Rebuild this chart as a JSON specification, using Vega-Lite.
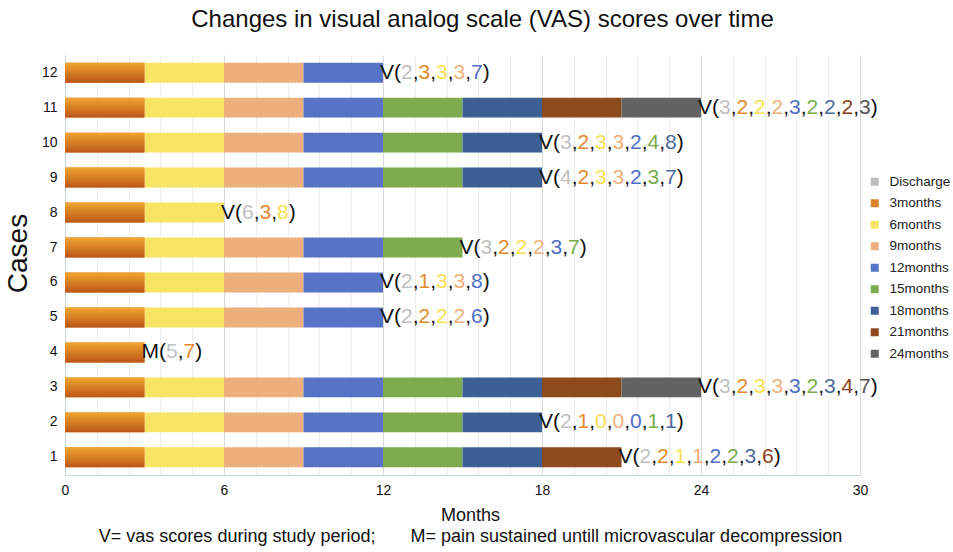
{
  "$schema": "https://vega.github.io/schema/vega-lite/v6.json",
  "autosize": {"type": "none"},
  "padding": {"left": 65, "top": 55, "right": 93, "bottom": 77},
  "width": 795,
  "height": 420,
  "background": "white",
  "config": {"font": "Liberation Sans", "view": {"stroke": null}},
  "title": {"text": "Changes in visual analog scale (VAS) scores over time", "fontSize": 24, "fontWeight": "normal", "color": "#111111", "anchor": "middle", "dx": 20, "baseline": "bottom", "offset": -1},
  "datasets": {
    "segs": [
      {"c":1,"p":"3months","a":0,"b":3},{"c":1,"p":"6months","a":3,"b":6},{"c":1,"p":"9months","a":6,"b":9},{"c":1,"p":"12months","a":9,"b":12},{"c":1,"p":"15months","a":12,"b":15},{"c":1,"p":"18months","a":15,"b":18},{"c":1,"p":"21months","a":18,"b":21},
      {"c":2,"p":"3months","a":0,"b":3},{"c":2,"p":"6months","a":3,"b":6},{"c":2,"p":"9months","a":6,"b":9},{"c":2,"p":"12months","a":9,"b":12},{"c":2,"p":"15months","a":12,"b":15},{"c":2,"p":"18months","a":15,"b":18},
      {"c":3,"p":"3months","a":0,"b":3},{"c":3,"p":"6months","a":3,"b":6},{"c":3,"p":"9months","a":6,"b":9},{"c":3,"p":"12months","a":9,"b":12},{"c":3,"p":"15months","a":12,"b":15},{"c":3,"p":"18months","a":15,"b":18},{"c":3,"p":"21months","a":18,"b":21},{"c":3,"p":"24months","a":21,"b":24},
      {"c":4,"p":"3months","a":0,"b":3},
      {"c":5,"p":"3months","a":0,"b":3},{"c":5,"p":"6months","a":3,"b":6},{"c":5,"p":"9months","a":6,"b":9},{"c":5,"p":"12months","a":9,"b":12},
      {"c":6,"p":"3months","a":0,"b":3},{"c":6,"p":"6months","a":3,"b":6},{"c":6,"p":"9months","a":6,"b":9},{"c":6,"p":"12months","a":9,"b":12},
      {"c":7,"p":"3months","a":0,"b":3},{"c":7,"p":"6months","a":3,"b":6},{"c":7,"p":"9months","a":6,"b":9},{"c":7,"p":"12months","a":9,"b":12},{"c":7,"p":"15months","a":12,"b":15},
      {"c":8,"p":"3months","a":0,"b":3},{"c":8,"p":"6months","a":3,"b":6},
      {"c":9,"p":"3months","a":0,"b":3},{"c":9,"p":"6months","a":3,"b":6},{"c":9,"p":"9months","a":6,"b":9},{"c":9,"p":"12months","a":9,"b":12},{"c":9,"p":"15months","a":12,"b":15},{"c":9,"p":"18months","a":15,"b":18},
      {"c":10,"p":"3months","a":0,"b":3},{"c":10,"p":"6months","a":3,"b":6},{"c":10,"p":"9months","a":6,"b":9},{"c":10,"p":"12months","a":9,"b":12},{"c":10,"p":"15months","a":12,"b":15},{"c":10,"p":"18months","a":15,"b":18},
      {"c":11,"p":"3months","a":0,"b":3},{"c":11,"p":"6months","a":3,"b":6},{"c":11,"p":"9months","a":6,"b":9},{"c":11,"p":"12months","a":9,"b":12},{"c":11,"p":"15months","a":12,"b":15},{"c":11,"p":"18months","a":15,"b":18},{"c":11,"p":"21months","a":18,"b":21},{"c":11,"p":"24months","a":21,"b":24},
      {"c":12,"p":"3months","a":0,"b":3},{"c":12,"p":"6months","a":3,"b":6},{"c":12,"p":"9months","a":6,"b":9},{"c":12,"p":"12months","a":9,"b":12}
    ],
    "labs": [
      {"c":1,"e":21,"t":"V(\u2007,\u2007,\u2007,\u2007,\u2007,\u2007,\u2007,\u2007)","s":"k"},
      {"c":1,"e":21,"t":"\u200d\u20032","s":"D"},
      {"c":1,"e":21,"t":"\u200d\u2003\u2007\u20082","s":"3"},
      {"c":1,"e":21,"t":"\u200d\u2003\u2007\u2008\u2007\u20081","s":"6"},
      {"c":1,"e":21,"t":"\u200d\u2003\u2007\u2008\u2007\u2008\u2007\u20081","s":"9"},
      {"c":1,"e":21,"t":"\u200d\u2003\u2007\u2008\u2007\u2008\u2007\u2008\u2007\u20082","s":"12"},
      {"c":1,"e":21,"t":"\u200d\u2003\u2007\u2008\u2007\u2008\u2007\u2008\u2007\u2008\u2007\u20082","s":"15"},
      {"c":1,"e":21,"t":"\u200d\u2003\u2007\u2008\u2007\u2008\u2007\u2008\u2007\u2008\u2007\u2008\u2007\u20083","s":"18"},
      {"c":1,"e":21,"t":"\u200d\u2003\u2007\u2008\u2007\u2008\u2007\u2008\u2007\u2008\u2007\u2008\u2007\u2008\u2007\u20086","s":"21"},

      {"c":2,"e":18,"t":"V(\u2007,\u2007,\u2007,\u2007,\u2007,\u2007,\u2007)","s":"k"},
      {"c":2,"e":18,"t":"\u200d\u20032","s":"D"},
      {"c":2,"e":18,"t":"\u200d\u2003\u2007\u20081","s":"3"},
      {"c":2,"e":18,"t":"\u200d\u2003\u2007\u2008\u2007\u20080","s":"6"},
      {"c":2,"e":18,"t":"\u200d\u2003\u2007\u2008\u2007\u2008\u2007\u20080","s":"9"},
      {"c":2,"e":18,"t":"\u200d\u2003\u2007\u2008\u2007\u2008\u2007\u2008\u2007\u20080","s":"12"},
      {"c":2,"e":18,"t":"\u200d\u2003\u2007\u2008\u2007\u2008\u2007\u2008\u2007\u2008\u2007\u20081","s":"15"},
      {"c":2,"e":18,"t":"\u200d\u2003\u2007\u2008\u2007\u2008\u2007\u2008\u2007\u2008\u2007\u2008\u2007\u20081","s":"18"},

      {"c":3,"e":24,"t":"V(\u2007,\u2007,\u2007,\u2007,\u2007,\u2007,\u2007,\u2007,\u2007)","s":"k"},
      {"c":3,"e":24,"t":"\u200d\u20033","s":"D"},
      {"c":3,"e":24,"t":"\u200d\u2003\u2007\u20082","s":"3"},
      {"c":3,"e":24,"t":"\u200d\u2003\u2007\u2008\u2007\u20083","s":"6"},
      {"c":3,"e":24,"t":"\u200d\u2003\u2007\u2008\u2007\u2008\u2007\u20083","s":"9"},
      {"c":3,"e":24,"t":"\u200d\u2003\u2007\u2008\u2007\u2008\u2007\u2008\u2007\u20083","s":"12"},
      {"c":3,"e":24,"t":"\u200d\u2003\u2007\u2008\u2007\u2008\u2007\u2008\u2007\u2008\u2007\u20082","s":"15"},
      {"c":3,"e":24,"t":"\u200d\u2003\u2007\u2008\u2007\u2008\u2007\u2008\u2007\u2008\u2007\u2008\u2007\u20083","s":"18"},
      {"c":3,"e":24,"t":"\u200d\u2003\u2007\u2008\u2007\u2008\u2007\u2008\u2007\u2008\u2007\u2008\u2007\u2008\u2007\u20084","s":"21"},
      {"c":3,"e":24,"t":"\u200d\u2003\u2007\u2008\u2007\u2008\u2007\u2008\u2007\u2008\u2007\u2008\u2007\u2008\u2007\u2008\u2007\u20087","s":"24"},

      {"c":4,"e":3,"t":"M(\u2007,\u2007)","s":"k"},
      {"c":4,"e":3,"t":"\u200d\u2003\u20065","s":"D"},
      {"c":4,"e":3,"t":"\u200d\u2003\u2006\u2007\u20087","s":"3"},

      {"c":5,"e":12,"t":"V(\u2007,\u2007,\u2007,\u2007,\u2007)","s":"k"},
      {"c":5,"e":12,"t":"\u200d\u20032","s":"D"},
      {"c":5,"e":12,"t":"\u200d\u2003\u2007\u20082","s":"3"},
      {"c":5,"e":12,"t":"\u200d\u2003\u2007\u2008\u2007\u20082","s":"6"},
      {"c":5,"e":12,"t":"\u200d\u2003\u2007\u2008\u2007\u2008\u2007\u20082","s":"9"},
      {"c":5,"e":12,"t":"\u200d\u2003\u2007\u2008\u2007\u2008\u2007\u2008\u2007\u20086","s":"12"},

      {"c":6,"e":12,"t":"V(\u2007,\u2007,\u2007,\u2007,\u2007)","s":"k"},
      {"c":6,"e":12,"t":"\u200d\u20032","s":"D"},
      {"c":6,"e":12,"t":"\u200d\u2003\u2007\u20081","s":"3"},
      {"c":6,"e":12,"t":"\u200d\u2003\u2007\u2008\u2007\u20083","s":"6"},
      {"c":6,"e":12,"t":"\u200d\u2003\u2007\u2008\u2007\u2008\u2007\u20083","s":"9"},
      {"c":6,"e":12,"t":"\u200d\u2003\u2007\u2008\u2007\u2008\u2007\u2008\u2007\u20088","s":"12"},

      {"c":7,"e":15,"t":"V(\u2007,\u2007,\u2007,\u2007,\u2007,\u2007)","s":"k"},
      {"c":7,"e":15,"t":"\u200d\u20033","s":"D"},
      {"c":7,"e":15,"t":"\u200d\u2003\u2007\u20082","s":"3"},
      {"c":7,"e":15,"t":"\u200d\u2003\u2007\u2008\u2007\u20082","s":"6"},
      {"c":7,"e":15,"t":"\u200d\u2003\u2007\u2008\u2007\u2008\u2007\u20082","s":"9"},
      {"c":7,"e":15,"t":"\u200d\u2003\u2007\u2008\u2007\u2008\u2007\u2008\u2007\u20083","s":"12"},
      {"c":7,"e":15,"t":"\u200d\u2003\u2007\u2008\u2007\u2008\u2007\u2008\u2007\u2008\u2007\u20087","s":"15"},

      {"c":8,"e":6,"t":"V(\u2007,\u2007,\u2007)","s":"k"},
      {"c":8,"e":6,"t":"\u200d\u20036","s":"D"},
      {"c":8,"e":6,"t":"\u200d\u2003\u2007\u20083","s":"3"},
      {"c":8,"e":6,"t":"\u200d\u2003\u2007\u2008\u2007\u20088","s":"6"},

      {"c":9,"e":18,"t":"V(\u2007,\u2007,\u2007,\u2007,\u2007,\u2007,\u2007)","s":"k"},
      {"c":9,"e":18,"t":"\u200d\u20034","s":"D"},
      {"c":9,"e":18,"t":"\u200d\u2003\u2007\u20082","s":"3"},
      {"c":9,"e":18,"t":"\u200d\u2003\u2007\u2008\u2007\u20083","s":"6"},
      {"c":9,"e":18,"t":"\u200d\u2003\u2007\u2008\u2007\u2008\u2007\u20083","s":"9"},
      {"c":9,"e":18,"t":"\u200d\u2003\u2007\u2008\u2007\u2008\u2007\u2008\u2007\u20082","s":"12"},
      {"c":9,"e":18,"t":"\u200d\u2003\u2007\u2008\u2007\u2008\u2007\u2008\u2007\u2008\u2007\u20083","s":"15"},
      {"c":9,"e":18,"t":"\u200d\u2003\u2007\u2008\u2007\u2008\u2007\u2008\u2007\u2008\u2007\u2008\u2007\u20087","s":"18"},

      {"c":10,"e":18,"t":"V(\u2007,\u2007,\u2007,\u2007,\u2007,\u2007,\u2007)","s":"k"},
      {"c":10,"e":18,"t":"\u200d\u20033","s":"D"},
      {"c":10,"e":18,"t":"\u200d\u2003\u2007\u20082","s":"3"},
      {"c":10,"e":18,"t":"\u200d\u2003\u2007\u2008\u2007\u20083","s":"6"},
      {"c":10,"e":18,"t":"\u200d\u2003\u2007\u2008\u2007\u2008\u2007\u20083","s":"9"},
      {"c":10,"e":18,"t":"\u200d\u2003\u2007\u2008\u2007\u2008\u2007\u2008\u2007\u20082","s":"12"},
      {"c":10,"e":18,"t":"\u200d\u2003\u2007\u2008\u2007\u2008\u2007\u2008\u2007\u2008\u2007\u20084","s":"15"},
      {"c":10,"e":18,"t":"\u200d\u2003\u2007\u2008\u2007\u2008\u2007\u2008\u2007\u2008\u2007\u2008\u2007\u20088","s":"18"},

      {"c":11,"e":24,"t":"V(\u2007,\u2007,\u2007,\u2007,\u2007,\u2007,\u2007,\u2007,\u2007)","s":"k"},
      {"c":11,"e":24,"t":"\u200d\u20033","s":"D"},
      {"c":11,"e":24,"t":"\u200d\u2003\u2007\u20082","s":"3"},
      {"c":11,"e":24,"t":"\u200d\u2003\u2007\u2008\u2007\u20082","s":"6"},
      {"c":11,"e":24,"t":"\u200d\u2003\u2007\u2008\u2007\u2008\u2007\u20082","s":"9"},
      {"c":11,"e":24,"t":"\u200d\u2003\u2007\u2008\u2007\u2008\u2007\u2008\u2007\u20083","s":"12"},
      {"c":11,"e":24,"t":"\u200d\u2003\u2007\u2008\u2007\u2008\u2007\u2008\u2007\u2008\u2007\u20082","s":"15"},
      {"c":11,"e":24,"t":"\u200d\u2003\u2007\u2008\u2007\u2008\u2007\u2008\u2007\u2008\u2007\u2008\u2007\u20082","s":"18"},
      {"c":11,"e":24,"t":"\u200d\u2003\u2007\u2008\u2007\u2008\u2007\u2008\u2007\u2008\u2007\u2008\u2007\u2008\u2007\u20082","s":"21"},
      {"c":11,"e":24,"t":"\u200d\u2003\u2007\u2008\u2007\u2008\u2007\u2008\u2007\u2008\u2007\u2008\u2007\u2008\u2007\u2008\u2007\u20083","s":"24"},

      {"c":12,"e":12,"t":"V(\u2007,\u2007,\u2007,\u2007,\u2007)","s":"k"},
      {"c":12,"e":12,"t":"\u200d\u20032","s":"D"},
      {"c":12,"e":12,"t":"\u200d\u2003\u2007\u20083","s":"3"},
      {"c":12,"e":12,"t":"\u200d\u2003\u2007\u2008\u2007\u20083","s":"6"},
      {"c":12,"e":12,"t":"\u200d\u2003\u2007\u2008\u2007\u2008\u2007\u20083","s":"9"},
      {"c":12,"e":12,"t":"\u200d\u2003\u2007\u2008\u2007\u2008\u2007\u2008\u2007\u20087","s":"12"}
    ]
  },
  "resolve": {"axis": {"x": "independent"}},
  "layer": [
    {
      "data": {"name": "segs"},
      "mark": {"type": "bar"},
      "encoding": {
        "y": {"field": "c", "type": "ordinal", "sort": "descending",
              "scale": {"type": "band", "paddingInner": 0.43, "paddingOuter": 0.22},
              "axis": {"title": "Cases", "titleFontSize": 28, "titleFontWeight": "normal", "titlePadding": 9, "titleColor": "#111111", "titleY": 198,
                       "labelFontSize": 14, "labelPadding": 8, "labelColor": "#111111", "ticks": false, "grid": false, "domainColor": "#C8D5E5"}},
        "x": {"field": "a", "type": "quantitative",
              "scale": {"domain": [0, 30], "nice": false},
              "axis": {"orient": "bottom", "values": [0, 6, 12, 18, 24, 30],
                       "labelFontSize": 14, "labelPadding": 8, "labelColor": "#111111", "labelFlush": false, "labelOverlap": false,
                       "ticks": false, "grid": true, "gridColor": "#D9D9D9",
                       "domainColor": "#C8D5E5",
                       "title": ["Months", "V= vas scores during study period;\u00a0\u00a0\u00a0\u00a0\u00a0\u00a0\u00a0M= pain sustained untill microvascular decompression"],
                       "titleFontSize": 18, "titleFontWeight": "normal", "titleColor": "#111111", "titlePadding": 9, "titleLineHeight": 21, "titleX": 405, "titleAlign": "center"}},
        "x2": {"field": "b"},
        "color": {"field": "p", "type": "nominal",
                  "scale": {"domain": ["Discharge","3months","6months","9months","12months","15months","18months","21months","24months"],
                            "range": ["#BFBFBF","#D9822B","#F8E463","#EDB07C","#5673C5","#7DAB4D","#3D5F94","#8D4A1C","#626262"]},
                  "legend": {"orient": "none", "legendX": 803, "legendY": 120, "title": null, "symbolType": "square", "symbolSize": 64,
                             "symbolStrokeWidth": 0, "labelFontSize": 13.5, "labelColor": "#222222", "rowPadding": 6.5, "labelOffset": 8}}
      }
    },
    {
      "data": {"name": "segs"},
      "transform": [{"filter": "datum.p === '3months'"}],
      "mark": {"type": "bar", "color": {"gradient": "linear", "x1": 0, "y1": 0, "x2": 0, "y2": 1,
               "stops": [{"offset": 0, "color": "#F0A630"}, {"offset": 1, "color": "#BC5618"}]}},
      "encoding": {
        "y": {"field": "c", "type": "ordinal", "sort": "descending"},
        "x": {"field": "a", "type": "quantitative",
              "axis": {"orient": "bottom", "values": [1.2,2.4,3.6,4.8,7.2,8.4,9.6,10.8,13.2,14.4,15.6,16.8,19.2,20.4,21.6,22.8,25.2,26.4,27.6,28.8],
                       "labels": false, "ticks": false, "domain": false, "title": null, "grid": true, "gridColor": "#EDEDED"}},
        "x2": {"field": "b"}
      }
    },
    {
      "data": {"name": "labs"},
      "mark": {"type": "text", "align": "left", "baseline": "middle", "fontSize": 21, "dx": -3},
      "encoding": {
        "y": {"field": "c", "type": "ordinal", "sort": "descending"},
        "x": {"field": "e", "type": "quantitative", "axis": null},
        "text": {"field": "t"},
        "fill": {"field": "s", "type": "nominal", "legend": null,
                 "scale": {"domain": ["k","D","3","6","9","12","15","18","21","24"],
                           "range": ["#111111","#C0C0C0","#E3892A","#F7E04F","#EFB07A","#4E6EC4","#77AD48","#4B6C9A","#8B3F16","#555555"]}}
      }
    }
  ]
}
